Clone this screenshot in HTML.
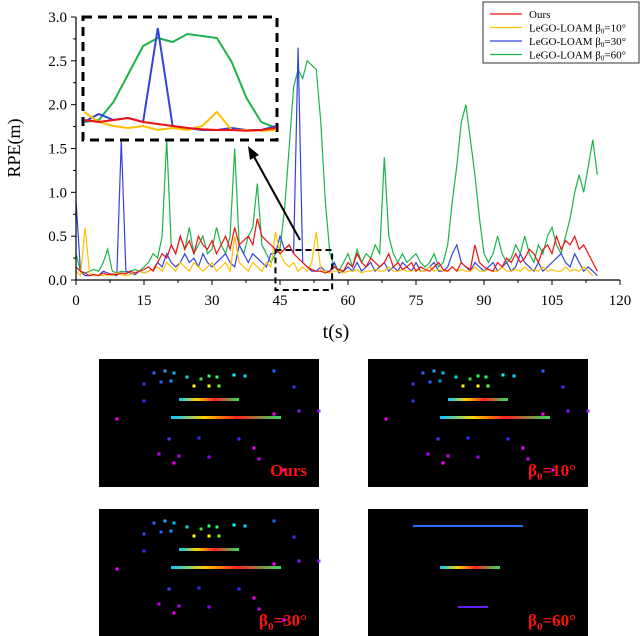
<!DOCTYPE html>
<html><head><meta charset="utf-8">
<style>
body{margin:0;background:#fff;width:640px;height:636px;overflow:hidden;font-family:"Liberation Serif",serif;}
svg{display:block}
</style></head>
<body>
<svg id="chart" width="640" height="636" viewBox="0 0 640 636" xmlns="http://www.w3.org/2000/svg">
<defs>
<clipPath id="insetClip"><rect x="84" y="18" width="192" height="120"/></clipPath>
<linearGradient id="rainbow" x1="0" x2="1">
<stop offset="0" stop-color="#00c8ff"/><stop offset="0.3" stop-color="#ffd000"/><stop offset="0.6" stop-color="#ff2020"/><stop offset="1" stop-color="#30e060"/></linearGradient>
</defs>
<g id="plot"></g>
</svg>
<script>
const tMin = 0, tMax = 120, vMin = 0, vMax = 3.0;
const xTicks = [0,15,30,45,60,75,90,105,120];
const yTicks = ["0.0","0.5","1.0","1.5","2.0","2.5","3.0"];
const seriesNames = ["Ours","LeGO-LOAM β0=10°","LeGO-LOAM β0=30°","LeGO-LOAM β0=60°"];
const green = [0.3,0.1,0.08,0.1,0.12,0.1,0.2,0.35,0.1,0.08,0.1,0.09,0.1,0.12,0.1,0.15,0.2,0.3,0.25,0.5,1.6,0.4,0.3,0.5,0.35,0.6,0.3,0.4,0.5,0.3,0.35,0.6,0.4,0.3,0.5,1.5,0.4,0.3,0.5,0.6,1.1,0.4,0.3,0.2,0.3,0.35,0.8,1.5,2.2,2.4,2.3,2.5,2.45,2.4,1.8,0.9,0.3,0.15,0.1,0.2,0.3,0.15,0.35,0.2,0.3,0.25,0.4,0.3,1.4,0.5,0.3,0.2,0.3,0.2,0.25,0.3,0.2,0.15,0.2,0.3,0.15,0.2,0.4,0.9,1.3,1.8,2.0,1.6,1.2,0.7,0.3,0.2,0.3,0.5,0.3,0.2,0.25,0.4,0.3,0.5,0.3,0.2,0.4,0.3,0.5,0.6,0.4,0.3,0.5,0.7,1.0,1.2,1.0,1.3,1.6,1.2];
const blue = [0.9,0.1,0.05,0.05,0.06,0.05,0.1,0.08,0.06,0.05,1.6,0.1,0.08,0.06,0.1,0.08,0.1,0.12,0.2,0.15,0.3,0.2,0.15,0.2,0.3,0.2,0.25,0.15,0.3,0.2,0.15,0.2,0.25,0.3,0.2,0.15,0.4,0.3,0.2,0.3,0.25,0.2,0.15,0.3,0.3,0.5,0.35,0.4,0.3,2.65,0.2,0.15,0.1,0.1,0.15,0.1,0.1,0.2,0.08,0.1,0.15,0.1,0.2,0.1,0.15,0.2,0.1,0.15,0.2,0.1,0.15,0.1,0.2,0.15,0.1,0.2,0.1,0.1,0.15,0.2,0.1,0.1,0.15,0.3,0.4,0.2,0.15,0.1,0.2,0.15,0.1,0.15,0.2,0.1,0.15,0.2,0.1,0.15,0.3,0.2,0.15,0.1,0.2,0.1,0.15,0.2,0.25,0.3,0.2,0.15,0.3,0.2,0.1,0.15,0.1,0.05];
const yellow = [0.1,0.05,0.6,0.08,0.05,0.06,0.05,0.06,0.05,0.08,0.06,0.05,0.06,0.08,0.1,0.08,0.1,0.12,0.15,0.1,0.2,0.15,0.1,0.2,0.15,0.1,0.2,0.15,0.1,0.15,0.2,0.1,0.15,0.2,0.1,0.5,0.2,0.15,0.1,0.2,0.15,0.1,0.2,0.15,0.55,0.3,0.2,0.15,0.2,0.1,0.15,0.1,0.2,0.55,0.1,0.1,0.08,0.1,0.1,0.08,0.1,0.1,0.12,0.08,0.1,0.1,0.12,0.1,0.1,0.15,0.1,0.1,0.12,0.1,0.1,0.12,0.1,0.1,0.15,0.1,0.12,0.1,0.1,0.15,0.1,0.12,0.1,0.1,0.15,0.1,0.1,0.12,0.1,0.1,0.15,0.1,0.1,0.12,0.1,0.15,0.1,0.12,0.1,0.15,0.1,0.12,0.1,0.1,0.15,0.1,0.12,0.1,0.15,0.1,0.05];
const red = [0.15,0.1,0.08,0.05,0.06,0.05,0.08,0.06,0.07,0.06,0.08,0.07,0.1,0.08,0.1,0.12,0.15,0.1,0.2,0.3,0.25,0.4,0.3,0.5,0.35,0.45,0.3,0.5,0.4,0.35,0.45,0.3,0.4,0.5,0.35,0.6,0.4,0.45,0.5,0.4,0.7,0.5,0.45,0.4,0.35,0.3,0.35,0.4,0.3,0.25,0.2,0.15,0.12,0.1,0.1,0.08,0.1,0.15,0.12,0.1,0.2,0.15,0.3,0.2,0.15,0.25,0.2,0.15,0.2,0.3,0.15,0.2,0.12,0.15,0.2,0.1,0.15,0.12,0.1,0.15,0.2,0.12,0.1,0.15,0.1,0.2,0.15,0.12,0.4,0.2,0.15,0.12,0.1,0.2,0.15,0.25,0.2,0.3,0.2,0.25,0.35,0.3,0.2,0.35,0.4,0.3,0.5,0.35,0.45,0.4,0.5,0.35,0.4,0.3,0.2,0.1];
const insetT0 = 44, insetT1 = 57, insetV1 = 2.8;

const NS = "http://www.w3.org/2000/svg";
const g = document.getElementById('plot');
function mk(tag, attrs, parent){const e=document.createElementNS(NS,tag);for(const k in attrs)e.setAttribute(k,attrs[k]);(parent||g).appendChild(e);return e;}
const X0=76, X1=620, Y0=280, Y1=17;
const xs = t => X0 + (t - tMin) / (tMax - tMin) * (X1 - X0);
const ys = v => Y0 - (v - vMin) / (vMax - vMin) * (Y0 - Y1);
const ixs = t => 84 + (t - insetT0) / (insetT1 - insetT0) * 192;
const iys = v => 134 - v / insetV1 * 112;

const series = [[green,"#1db34a"],[blue,"#3344dd"],[yellow,"#ffc000"],[red,"#ee1111"]];
series.forEach(([arr,col],si)=>{
  const pts = arr.map((v,i)=>xs(i).toFixed(1)+","+ys(v).toFixed(1)).join(" ");
  const p = mk('polyline',{points:pts,fill:"none",stroke:col,"stroke-width":1.2});
  
  
});
// axes
const ax = mk('path',{d:`M${X0},${Y1} V${Y0} H${X1}`,stroke:"#000","stroke-width":1.2,fill:"none"});


xTicks.forEach((t,i)=>{
  mk('line',{x1:xs(t),x2:xs(t),y1:Y0,y2:Y0+5,stroke:"#000"});
  if(i<xTicks.length-1) mk('line',{x1:xs(t+7.5),x2:xs(t+7.5),y1:Y0,y2:Y0+3,stroke:"#000"});
  const tx = mk('text',{x:xs(t),y:Y0+25,"text-anchor":"middle","font-size":15,"font-family":"Liberation Serif, serif"});
  tx.textContent=t;
  
  
});
yTicks.forEach((s,i)=>{
  const v=parseFloat(s);
  mk('line',{x1:X0-5,x2:X0,y1:ys(v),y2:ys(v),stroke:"#000"});
  if(i<yTicks.length-1) mk('line',{x1:X0-3,x2:X0,y1:ys(v+0.25),y2:ys(v+0.25),stroke:"#000"});
  const tx = mk('text',{x:X0-9,y:ys(v)+5,"text-anchor":"end","font-size":15,"font-family":"Liberation Serif, serif"});
  tx.textContent=s;
  
  
});
const xl = mk('text',{x:336,y:338,"text-anchor":"middle","font-size":20,"font-family":"Liberation Serif, serif"});
xl.textContent="t(s)";


const yl = mk('text',{x:0,y:0,"text-anchor":"middle","font-size":18,"font-family":"Liberation Serif, serif",transform:"translate(20,148) rotate(-90)"});
yl.textContent="RPE(m)";



// inset
const ib = mk('rect',{x:83,y:17,width:194,height:123,fill:"#fff",stroke:"#000","stroke-width":3,"stroke-dasharray":"9,6"});


const ig = mk('g',{"clip-path":"url(#insetClip)"});
series.forEach(([arr,col])=>{
  const pts=[];
  arr.forEach((v,i)=>{ if(i>=insetT0-1 && i<=insetT1+1) pts.push(ixs(i).toFixed(1)+","+iys(v).toFixed(1)); });
  const p = mk('polyline',{points:pts.join(" "),fill:"none",stroke:col,"stroke-width":2},ig);
  
  
});
const zb = mk('rect',{x:xs(44),y:250,width:xs(56.5)-xs(44),height:40,fill:"none",stroke:"#000","stroke-width":2,"stroke-dasharray":"6,4"});


const ar = mk('line',{x1:300,y1:240,x2:252,y2:153,stroke:"#000","stroke-width":2});


mk('polygon',{points:"248,146 250,160 259,155",fill:"#000"});

// legend
const lg = mk('g',{});


mk('rect',{x:483,y:2,width:156,height:61,fill:"#fff",stroke:"#333","stroke-width":1},lg);
const legCols=["#ee1111","#ffc000","#3344dd","#1db34a"];
const legLabels=["Ours","LeGO-LOAM β<tspan dy='2' font-size='7'>0</tspan><tspan dy='-2'>=10°</tspan>","LeGO-LOAM β<tspan dy='2' font-size='7'>0</tspan><tspan dy='-2'>=30°</tspan>","LeGO-LOAM β<tspan dy='2' font-size='7'>0</tspan><tspan dy='-2'>=60°</tspan>"];
legLabels.forEach((l,i)=>{
  const y=14+i*13.5;
  mk('line',{x1:490,x2:522,y1:y,y2:y,stroke:legCols[i],"stroke-width":1.3},lg);
  const t=mk('text',{x:529,y:y+4,"font-size":11,"font-family":"Liberation Serif, serif"},lg);
  t.innerHTML=l;
  
  
});

// point cloud panels
const panels=[[99,359,"Ours",0],[368,359,"β0=10°",1],[99,509,"β0=30°",2],[368,509,"β0=60°",3]];
panels.forEach(([px,py,lab,k])=>{
  const pg=mk('g',{transform:`translate(${px},${py})`});
  
  
  mk('rect',{x:0,y:0,width:220,height:128,fill:"#000"},pg);
  if(k<3){
    const dots=[[55,14,"#3060ff"],[66,12,"#30a0ff"],[75,14,"#00c0ff"],[88,18,"#00e0e0"],[102,20,"#40e040"],[110,17,"#30ff60"],[118,18,"#30ff60"],[135,16,"#00ffff"],[146,17,"#00e0ff"],[45,25,"#3040ff"],[62,23,"#3060ff"],[72,22,"#00a0ff"],[95,27,"#ffff00"],[110,27,"#ffff00"],[120,27,"#60ff40"],[175,12,"#2060ff"],[200,52,"#8020ff"],[195,28,"#6020ff"],[18,60,"#ff00ff"],[175,55,"#ff00ff"],[220,52,"#a020ff"],[70,80,"#4040ff"],[100,79,"#3030ff"],[140,80,"#3030ff"],[60,95,"#c000ff"],[80,97,"#c000ff"],[110,98,"#a000ff"],[75,104,"#ff00ff"],[160,100,"#d000ff"],[185,111,"#ff00ff"],[155,89,"#ff00ff"],[45,42,"#3030ff"]];
    dots.forEach(d=>mk('rect',{x:d[0]-1.5,y:d[1]-1.5,width:3,height:3,fill:d[2]},pg));
    mk('rect',{x:80,y:39,width:60,height:3,fill:"url(#rainbow)"},pg);
    mk('rect',{x:72,y:57,width:110,height:3,fill:"url(#rainbow)"},pg);
  } else {
    mk('rect',{x:45,y:16,width:110,height:2,fill:"#2a6aff"},pg);
    mk('rect',{x:72,y:57,width:60,height:3,fill:"url(#rainbow)"},pg);
    mk('rect',{x:90,y:97,width:30,height:2,fill:"#6020ff"},pg);
  }
  const t=mk('text',{x:208,y:117,"text-anchor":"end","font-size":17,"font-weight":"bold",fill:"#ff1010","font-family":"Liberation Serif, serif"},pg);
  if(k===0) t.textContent="Ours";
  else t.innerHTML="β<tspan dy='4' font-size='11'>0</tspan><tspan dy='-4'>"+lab.slice(2)+"</tspan>";
  
  
});
</script>
</body></html>
